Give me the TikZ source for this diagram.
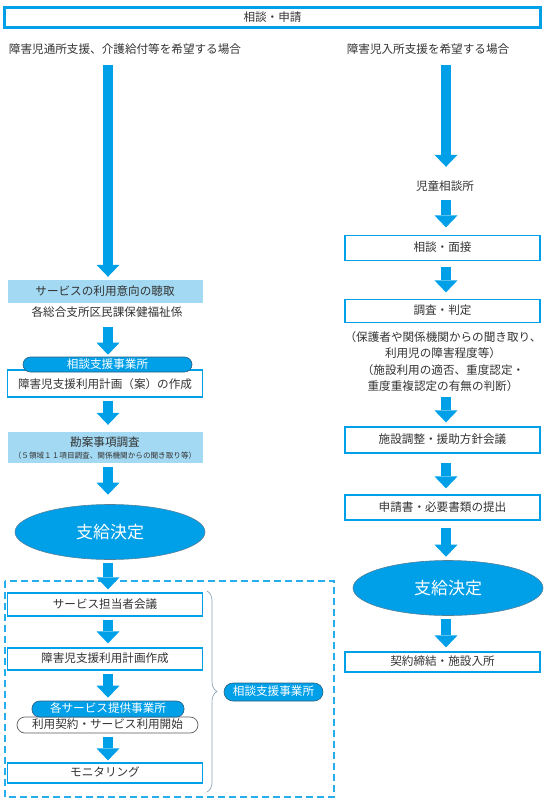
\documentclass[tikz,border=0pt]{standalone}
\usepackage{fontspec}
\setmainfont{Noto Sans CJK JP}
\usetikzlibrary{positioning}
\usetikzlibrary{shapes.geometric}
\usetikzlibrary{arrows.meta}
\usetikzlibrary{decorations.pathreplacing}
\definecolor{flowblue}{HTML}{00A0E9}
\definecolor{paleblue}{HTML}{A3D9F2}
\definecolor{pilledge}{HTML}{2B5F80}
\definecolor{inkgray}{HTML}{333333}
\definecolor{bracegray}{HTML}{8AA6B8}

\begin{document}
\begin{tikzpicture}[x=1pt,y=-1pt,
  every node/.style={font=\fontsize{11.6}{13}\selectfont,text=inkgray,inner sep=0pt},
  plain/.style={text height=9pt,text depth=2pt},
  titlebox/.style={plain,draw=flowblue,line width=3pt,minimum width=536pt,minimum height=20pt},
  framebox/.style={plain,draw=flowblue,line width=1.2pt,fill=white,minimum width=195pt},
  shadebox/.style={plain,fill=paleblue,minimum width=195pt},
  pillbox/.style={plain,rounded corners=7.5pt,fill=flowblue,draw=pilledge,line width=0.6pt,text=white},
  contractbox/.style={plain,rounded corners=8pt,fill=white,draw=inkgray!80,line width=0.7pt,minimum width=181pt,minimum height=16pt},
  payellipse/.style={ellipse,fill=flowblue,draw=pilledge!80,line width=0.6pt,minimum width=190pt,minimum height=55pt,text=white,font=\fontsize{17}{19}\selectfont},
  bigarrow/.style={draw=flowblue,line width=10pt,-{Triangle[width=23pt,length=12pt,line width=0pt]}},
  outerdash/.style={draw=flowblue!85,line width=1.2pt,dash pattern=on 7pt off 4pt},
  bracelink/.style={draw=bracegray,line width=0.7pt,decorate,decoration={brace,amplitude=10pt}}]
\useasboundingbox (0,0) rectangle (548,800);
\coordinate (laneL) at (108,0);
\coordinate (laneR) at (446,0);
\node[titlebox] (title) at (272.5,18) {相談・申請};
\node[plain] (headL) at (125,50) {障害児通所支援、介護給付等を希望する場合};
\node[plain] (headR) at (428,50) {障害児入所支援を希望する場合};
\node[shadebox,minimum height=23pt] (listen) at (105,291.5) {サービスの利用意向の聴取};
\node[plain] (ward) at (107,313) {各総合支所区民課保健福祉係};
\node[framebox,minimum height=27pt,text depth=0pt] (draftplan) at (105,383.5) {障害児支援利用計画（案）の作成};
\node[pillbox,minimum width=169pt,minimum height=15pt] (consultA) at (107.5,364.5) {相談支援事業所};
\node[shadebox,minimum height=31pt,align=center,text height=,text depth=] (survey) at (105,447.5) {勘案事項調査\\[-1pt]{\fontsize{7.6}{8}\selectfont （５領域１１項目調査、関係機関からの聞き取り等）}};
\node[payellipse] (decideL) at (110,532) {支給決定};
\draw[outerdash] (5,581) rectangle (334,797);
\node[framebox,minimum height=23pt] (meeting) at (105,604.5) {サービス担当者会議};
\node[framebox,minimum height=22pt] (plan) at (105,659) {障害児支援利用計画作成};
\node[contractbox] (contract) at (107.5,725) {利用契約・サービス利用開始};
\node[pillbox,minimum width=152pt,minimum height=16pt] (provider) at (108,709) {各サービス提供事業所};
\node[framebox,minimum height=20pt] (monitor) at (105,773) {モニタリング};
\draw[bracelink] (207,591) -- (207,792);
\node[pillbox,minimum width=99pt,minimum height=18pt,rounded corners=9pt] (consultB) at (273.5,692) {相談支援事業所};
\node[plain] (center) at (445,187) {児童相談所};
\node[framebox,minimum height=25pt] (interview) at (442.5,248) {相談・面接};
\node[framebox,minimum height=23pt] (judge) at (442.5,311) {調査・判定};
\node[align=center,font=\fontsize{11.6}{16.3}\selectfont] (notes) at (443,361.5) {（保護者や関係機関からの聞き取り、\\利用児の障害程度等）\\（施設利用の適否、重度認定・\\重度重複認定の有無の判断）};
\node[framebox,minimum height=26pt] (facility) at (442.5,440) {施設調整・援助方針会議};
\node[framebox,minimum height=25pt] (apply) at (442.5,507.5) {申請書・必要書類の提出};
\node[payellipse] (decideR) at (448,588) {支給決定};
\node[framebox,minimum height=20pt] (contractR) at (442.5,662) {契約締結・施設入所};
\draw[bigarrow,shorten <=9.5pt,shorten >=3pt] (headL.south -| laneL) -- (listen.north -| laneL);
\draw[bigarrow,shorten <=8.5pt,shorten >=2pt] (ward.south -| laneL) -- (consultA.north -| laneL);
\draw[bigarrow,shorten <=3pt,shorten >=7pt] (draftplan.south -| laneL) -- (survey.north -| laneL);
\draw[bigarrow,shorten <=4pt,shorten >=9.5pt] (survey.south -| laneL) -- (decideL.north -| laneL);
\draw[bigarrow,shorten <=3.5pt,shorten >=3pt] (decideL.south -| laneL) -- (meeting.north -| laneL);
\draw[bigarrow,shorten <=3pt,shorten >=4pt] (meeting.south -| laneL) -- (plan.north -| laneL);
\draw[bigarrow,shorten <=3pt,shorten >=3pt] (plan.south -| laneL) -- (provider.north -| laneL);
\draw[bigarrow,shorten <=4pt,shorten >=2pt] (contract.south -| laneL) -- (monitor.north -| laneL);
\draw[bigarrow,shorten <=9.5pt,shorten >=14.5pt] (headR.south -| laneR) -- (center.north -| laneR);
\draw[bigarrow,shorten <=7.5pt,shorten >=7.5pt] (center.south -| laneR) -- (interview.north -| laneR);
\draw[bigarrow,shorten <=5.5pt,shorten >=6.5pt] (interview.south -| laneR) -- (judge.north -| laneR);
\draw[bigarrow,shorten <=5pt,shorten >=4pt] (notes.south -| laneR) -- (facility.north -| laneR);
\draw[bigarrow,shorten <=9pt,shorten >=6pt] (facility.south -| laneR) -- (apply.north -| laneR);
\draw[bigarrow,shorten <=7pt,shorten >=3.5pt] (apply.south -| laneR) -- (decideR.north -| laneR);
\draw[bigarrow,shorten <=3.5pt,shorten >=4pt] (decideR.south -| laneR) -- (contractR.north -| laneR);
\end{tikzpicture}
\end{document}
